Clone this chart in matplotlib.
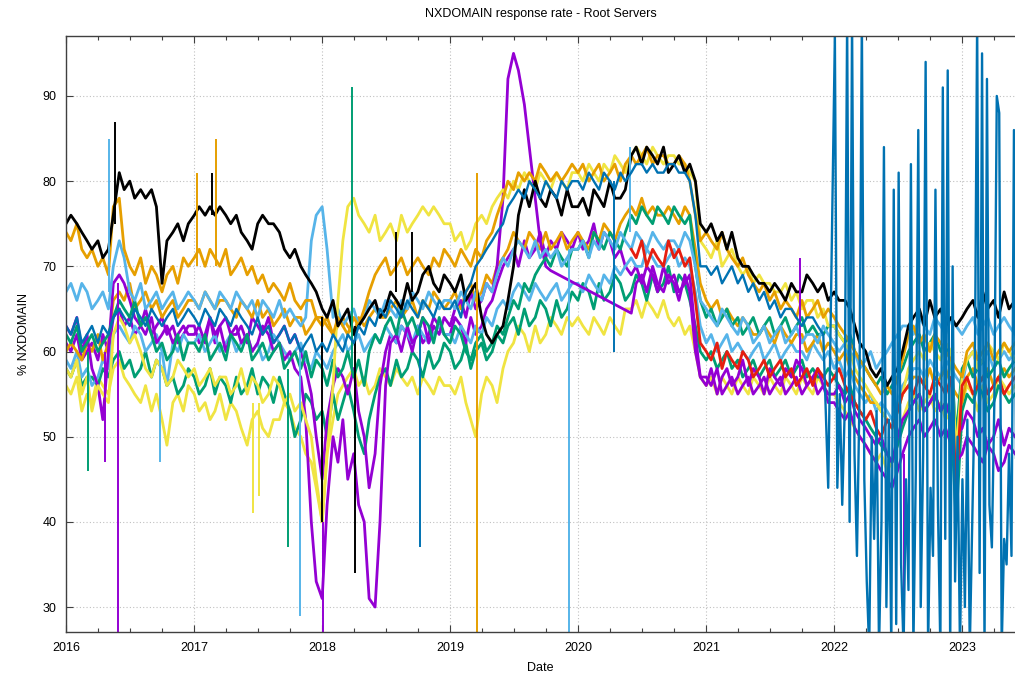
import numpy as np
import pandas as pd
import matplotlib
matplotlib.use('Agg')
import matplotlib.pyplot as plt
import matplotlib.dates as mdates
from matplotlib.ticker import MultipleLocator

plt.rcParams['font.family'] = ['Liberation Sans', 'DejaVu Sans']
plt.rcParams['font.size'] = 9

nan = np.nan

# ---- data: % NXDOMAIN per root server, sampled on the 1st and 15th of each month ----
dates = pd.date_range('2016-01-01', '2023-06-01', freq='SMS')

black = [
    75, 76, 75, 74, 73, 72, 73, 71, 72, 76, 81, 79, 80, 78, 79, 78, 79, 77, 68, 73, 74, 75, 73, 75,  # 2016
    76, 77, 76, 77, 76, 77, 76, 75, 76, 74, 73, 72, 75, 76, 75, 75, 74, 72, 71, 72, 70, 69, 68, 67,  # 2017
    65, 64, 66, 63, 64, 65, 62, 63, 64, 65, 66, 64, 65, 67, 66, 65, 68, 66, 67, 69, 70, 68, 67, 69,  # 2018
    68, 67, 69, 66, 67, 68, 64, 62, 61, 62, 63, 66, 70, 76, 79, 77, 80, 78, 77, 79, 78, 76, 79, 77,  # 2019
    77, 78, 76, 79, 78, 77, 80, 78, 78, 79, 83, 84, 82, 84, 83, 82, 84, 81, 82, 83, 81, 82, 80, 75,  # 2020
    74, 75, 73, 74, 72, 74, 71, 70, 70, 69, 68, 68, 67, 68, 67, 66, 68, 67, 67, 69, 68, 67, 68, 66,  # 2021
    67, 66, 66, 65, 63, 61, 60, 58, 57, 58, 56, 57, 58, 60, 63, 64, 65, 63, 66, 64, 65, 63, 64, 63,  # 2022
    64, 65, 66, 64, 67, 65, 66, 64, 67, 65, 66,  # 2023
]
orange_a = [
    74, 73, 75, 72, 71, 72, 70, 71, 69, 77, 78, 72, 70, 69, 71, 68, 70, 69, 67, 69, 70, 68, 71, 70,
    71, 72, 70, 72, 71, 70, 72, 69, 70, 71, 69, 70, 68, 69, 67, 68, 67, 66, 68, 66, 65, 66, 66, 64,
    64, 63, 62, 64, 63, 62, 64, 63, 65, 67, 69, 70, 71, 69, 70, 71, 69, 70, 71, 70, 69, 71, 70, 72,
    71, 70, 72, 71, 70, 72, 71, 73, 74, 76, 78, 80, 79, 81, 80, 81, 80, 82, 81, 80, 81, 80, 81, 82,
    81, 82, 80, 81, 82, 80, 81, 82, 80, 82, 83, 82, 83, 84, 82, 83, 83, 82, 82, 83, 82, 80, 76, 73,
    74, 73, 72, 74, 72, 71, 70, 71, 69, 68, 67, 68, 66, 67, 65, 66, 65, 64, 66, 64, 65, 66, 64, 65,
    64, 63, 62, 61, 60, 59, 58, 57, 56, 55, 56, 55, 57, 59, 62, 63, 61, 62, 60, 62, 61, 60, 59, 58,
    57, 60, 61, 59, 60, 61, 59, 60, 61, 60, 61,
]
orange_b = [
    60, 61, 60, 59, 61, 60, 62, 59, 61, 66, 67, 66, 68, 65, 66, 67, 65, 66, 64, 65, 66, 64, 65, 66,
    66, 65, 67, 66, 65, 66, 66, 65, 64, 66, 65, 64, 66, 64, 65, 63, 64, 65, 63, 64, 64, 62, 63, 64,
    63, 64, 62, 63, 64, 63, 62, 64, 63, 64, 65, 64, 64, 65, 66, 64, 65, 66, 64, 66, 65, 67, 66, 65,
    66, 67, 65, 67, 68, 66, 67, 69, 68, 70, 71, 72, 74, 73, 72, 74, 73, 72, 74, 72, 73, 74, 72, 73,
    74, 73, 72, 74, 73, 75, 74, 73, 75, 76, 77, 76, 78, 76, 77, 76, 76, 77, 76, 75, 77, 76, 72, 68,
    66, 65, 66, 64, 65, 64, 63, 64, 63, 62, 62, 63, 62, 61, 63, 62, 61, 62, 62, 60, 61, 62, 60, 61,
    60, 59, 60, 58, 57, 56, 55, 54, 54, 53, 52, 51, 53, 55, 56, 57, 57, 56, 58, 56, 57, 58, 56, 55,
    54, 57, 58, 56, 57, 58, 56, 57, 58, 57, 58,
]
lightblue_a = [
    67, 68, 66, 68, 67, 65, 66, 67, 65, 70, 73, 71, 67, 66, 68, 65, 66, 67, 65, 66, 67, 65, 66, 67,
    66, 65, 67, 66, 65, 67, 66, 65, 67, 66, 65, 66, 64, 66, 65, 64, 66, 64, 65, 64, 63, 64, 73, 76,
    77, 72, 64, 65, 63, 64, 65, 63, 64, 66, 65, 64, 66, 65, 64, 66, 65, 67, 66, 65, 67, 66, 65, 66,
    66, 65, 67, 66, 65, 67, 66, 68, 67, 69, 71, 70, 72, 73, 72, 71, 73, 71, 72, 71, 72, 70, 71, 72,
    72, 73, 71, 73, 72, 74, 73, 72, 74, 73, 72, 74, 73, 72, 74, 73, 72, 73, 73, 72, 74, 73, 70, 66,
    65, 64, 63, 65, 64, 63, 62, 64, 63, 61, 62, 63, 61, 62, 63, 61, 62, 63, 61, 62, 62, 61, 63, 62,
    61, 60, 61, 59, 60, 58, 59, 60, 58, 59, 60, 61, 62, 63, 63, 62, 64, 63, 62, 64, 63, 62, 64, 63,
    62, 63, 64, 62, 63, 64, 62, 63, 64, 63, 62,
]
lightblue_b = [
    59, 58, 60, 57, 58, 56, 57, 59, 58, 62, 63, 62, 61, 63, 62, 60, 61, 62, 60, 56, 61, 60, 62, 61,
    61, 62, 60, 61, 62, 60, 61, 62, 60, 61, 62, 60, 61, 59, 60, 62, 61, 60, 59, 60, 61, 59, 58, 60,
    59, 58, 60, 61, 62, 60, 61, 62, 60, 61, 62, 61, 63, 62, 61, 63, 62, 61, 63, 62, 61, 62, 63, 62,
    62, 61, 63, 62, 61, 63, 62, 64, 63, 65, 66, 65, 67, 68, 67, 66, 68, 67, 66, 67, 68, 66, 67, 68,
    68, 67, 69, 68, 67, 69, 68, 70, 69, 70, 71, 70, 70, 72, 71, 70, 70, 71, 72, 70, 71, 70, 67, 63,
    61, 62, 60, 61, 62, 60, 61, 60, 59, 60, 61, 59, 60, 61, 59, 60, 61, 60, 60, 59, 61, 60, 59, 60,
    58, 59, 57, 58, 56, 55, 54, 55, 53, 54, 53, 52, 54, 56, 57, 58, 58, 57, 59, 58, 57, 59, 58, 57,
    56, 59, 60, 58, 59, 60, 58, 59, 60, 59, 60,
]
purple_a = [
    63, 62, 64, 60, 62, 58, 56, 52, 60, 68, 69, 68, 66, 64, 63, 62, 64, 61, 62, 63, 61, 62, 63, 62,
    62, 63, 61, 64, 62, 63, 60, 62, 63, 61, 62, 60, 61, 63, 62, 60, 61, 59, 60, 58, 57, 52, 40, 33,
    31, 42, 50, 47, 52, 45, 48, 42, 40, 31, 30, 40, 56, 61, 62, 60, 63, 61, 62, 64, 61, 63, 62, 64,
    63, 65, 66, 64, 67, 65, 66, 68, 67, 70, 78, 92, 95, 93, 89, 84, 78, 73, 70, 69.5, nan, nan, nan, nan,
    nan, nan, nan, nan, nan, nan, nan, nan, nan, nan, 64.5, 68, 69, 67, 70, 68, 67, 69, 68, 66, 69, 67, 60, 57,
    56, 58, 55, 57, 58, 56, 57, 59, 56, 58, 57, 55, 58, 57, 56, 58, 57, 59, 58, 56, 57, 58, 56, 55,
    55, 56, 54, 55, 53, 52, 51, 50, 49, 50, 48, 47, 50, 52, 53, 54, 55, 53, 54, 55, 53, 54, 52, 50,
    51, 53, 52, 50, 51, 49, 50, 52, 49, 51, 50,
]
purple_b = [
    61, 60, 62, 59, 60, 61, 59, 62, 60, 64, 65, 63, 64, 62, 63, 65, 62, 63, 64, 62, 63, 61, 62, 63,
    63, 61, 62, 64, 61, 63, 64, 62, 62, 63, 61, 64, 63, 62, 64, 61, 62, 63, 61, 62, 60, 58, 55, 50,
    45, 52, 56, 58, 57, 55, 58, 53, 50, 44, 48, 56, 60, 62, 61, 63, 62, 60, 63, 61, 62, 64, 63, 62,
    62, 64, 63, 61, 64, 62, 63, 65, 66, 68, 70, 71, 72, 70, 73, 71, 72, 74, 71, 73, 72, 74, 73, 72,
    74, 72, 73, 75, 72, 74, 73, 71, 72, 70, 69, 70, 68, 70, 69, 67, 70, 68, 69, 67, 68, 69, 62, 57,
    57, 56, 58, 55, 56, 57, 55, 56, 57, 55, 56, 57, 55, 56, 57, 55, 56, 57, 55, 56, 57, 55, 56, 54,
    54, 53, 52, 53, 51, 50, 49, 48, 47, 46, 45, 44, 46, 48, 50, 51, 52, 50, 51, 52, 50, 51, 49, 47,
    48, 50, 49, 48, 47, 49, 48, 46, 47, 49, 48,
]
green_a = [
    62, 61, 63, 60, 61, 62, 60, 61, 62, 64, 66, 65, 64, 66, 63, 64, 62, 60, 61, 59, 60, 62, 59, 61,
    61, 60, 62, 59, 60, 61, 59, 62, 61, 60, 62, 59, 60, 61, 59, 60, 61, 58, 59, 60, 58, 60, 57, 59,
    58, 56, 59, 57, 58, 60, 57, 59, 56, 60, 62, 61, 63, 64, 62, 65, 63, 64, 62, 64, 63, 61, 64, 62,
    61, 63, 62, 60, 59, 61, 62, 60, 61, 63, 62, 64, 66, 65, 68, 67, 69, 70, 71, 70, 72, 71, 70, 72,
    72, 73, 71, 74, 73, 72, 74, 73, 72, 74, 76, 75, 77, 76, 75, 77, 76, 75, 77, 76, 75, 76, 70, 66,
    64, 65, 63, 64, 65, 63, 64, 62, 63, 64, 62, 63, 64, 62, 63, 64, 62, 63, 64, 62, 63, 62, 62, 63,
    63, 62, 61, 62, 60, 59, 58, 57, 56, 57, 55, 56, 57, 58, 60, 61, 62, 60, 61, 62, 60, 61, 59, 50,
    58, 59, 57, 58, 59, 57, 58, 59, 57, 58, 59,
]
green_b = [
    58, 57, 59, 56, 57, 57, 56, 58, 57, 59, 60, 58, 59, 57, 58, 60, 57, 59, 58, 56, 57, 55, 56, 58,
    57, 55, 56, 58, 55, 57, 56, 54, 57, 55, 56, 58, 55, 57, 56, 54, 57, 55, 53, 50, 52, 55, 54, 52,
    53, 50, 55, 52, 54, 56, 53, 50, 48, 52, 55, 57, 58, 56, 59, 57, 58, 60, 59, 57, 60, 58, 59, 61,
    60, 58, 59, 61, 58, 60, 61, 59, 60, 62, 61, 63, 64, 62, 65, 63, 64, 66, 65, 63, 66, 64, 65, 67,
    66, 68, 67, 65, 68, 66, 67, 69, 68, 66, 67, 69, 68, 66, 69, 67, 68, 70, 67, 69, 68, 66, 63, 60,
    59, 60, 58, 59, 60, 58, 59, 57, 58, 59, 57, 58, 59, 57, 58, 59, 57, 58, 59, 57, 58, 57, 57, 58,
    57, 56, 55, 56, 54, 53, 52, 51, 50, 49, 48, 47, 49, 51, 53, 54, 55, 53, 54, 55, 53, 54, 52, 40,
    53, 55, 54, 56, 55, 53, 54, 56, 55, 54, 55,
]
yellow_a = [
    58, 57, 59, 55, 57, 53, 56, 55, 54, 62, 64, 63, 61, 62, 60, 58, 57, 59, 58, 56, 57, 59, 58, 57,
    58, 56, 57, 58, 56, 57, 57, 55, 56, 58, 55, 57, 56, 54, 55, 57, 56, 54, 55, 53, 54, 52, 50, 45,
    40, 48, 56, 66, 73, 77, 78, 76, 75, 74, 76, 73, 74, 75, 73, 76, 74, 75, 76, 77, 76, 77, 76, 75,
    75, 73, 74, 72, 73, 75, 76, 75, 77, 78, 79, 78, 80, 79, 81, 80, 79, 81, 80, 79, 81, 80, 79, 81,
    81, 80, 82, 81, 80, 82, 81, 83, 82, 81, 83, 84, 83, 82, 84, 83, 82, 83, 83, 82, 82, 81, 80, 73,
    72, 71, 73, 70, 71, 72, 70, 69, 70, 68, 69, 68, 68, 67, 67, 68, 66, 67, 65, 66, 66, 64, 65, 63,
    63, 62, 61, 60, 58, 57, 56, 55, 54, 53, 52, 51, 53, 55, 58, 59, 60, 59, 61, 60, 59, 61, 60, 48,
    57, 59, 60, 58, 59, 61, 60, 59, 61, 60, 59,
]
yellow_b = [
    56, 55, 57, 53, 55, 54, 57, 56, 55, 58, 59, 57, 56, 55, 54, 56, 53, 55, 52, 49, 54, 55, 53, 56,
    55, 53, 54, 52, 53, 55, 52, 54, 53, 51, 49, 52, 53, 51, 50, 52, 52, 54, 53, 51, 50, 48, 47, 44,
    40, 48, 52, 55, 56, 57, 58, 56, 57, 55, 56, 58, 57, 56, 58, 57, 56, 57, 55, 57, 56, 55, 57, 56,
    56, 55, 57, 54, 52, 50, 55, 57, 56, 54, 58, 60, 61, 63, 62, 60, 63, 61, 62, 64, 63, 62, 64, 63,
    64, 63, 62, 64, 63, 62, 64, 63, 62, 65, 65, 66, 64, 66, 65, 64, 66, 64, 63, 64, 62, 63, 60, 57,
    56, 57, 55, 57, 56, 55, 57, 56, 55, 57, 56, 55, 57, 56, 55, 57, 56, 55, 57, 56, 55, 57, 56, 55,
    55, 54, 53, 52, 51, 50, 49, 48, 47, 48, 46, 47, 49, 52, 54, 55, 53, 54, 55, 53, 54, 52, 53, 45,
    54, 56, 55, 53, 56, 54, 55, 57, 56, 55, 56,
]
red = [nan] * 106 + [
    72, 71, 73, 70, 72, 71, 70, 73, 71, 72, 70, 71, 66, 61,  # Jun-Dec 2020
    60, 59, 61, 58, 60, 59, 58, 60, 59, 57, 58, 59, 57, 58, 59, 57, 58, 56, 57, 58, 56, 58, 57, 56,
    57, 58, 56, 55, 54, 53, 52, 53, 51, 50, 52, 51, 53, 55, 56, 55, 57, 56, 55, 57, 56, 55, 57, 44,
    56, 57, 55, 56, 57, 55, 56, 57, 55, 56, 57,
]
# dark blue server: semi-monthly to end of 2021, then weekly from 2022-01-03 (very unstable)
blue_early = [
    63, 62, 64, 61, 62, 63, 61, 63, 62, 64, 65, 64, 63, 65, 64, 63, 65, 64, 63, 64, 65, 63, 64, 65,
    64, 63, 65, 64, 63, 65, 64, 63, 65, 64, 63, 62, 64, 62, 63, 61, 62, 63, 61, 62, 60, 61, 62, 60,
    61, 60, 62, 61, 60, 62, 61, 63, 62, 64, 63, 65, 64, 66, 65, 64, 66, 65, 64, 66, 65, 64, 66, 65,
    65, 66, 64, 67, 68, 70, 71, 72, 73, 74, 75, 77, 78, 79, 78, 80, 79, 78, 80, 79, 78, 80, 79, 80,
    80, 79, 81, 80, 79, 81, 80, 79, 81, 80, 81, 82, 82, 81, 82, 81, 81, 82, 82, 81, 81, 80, 76, 70,
    70, 69, 70, 68, 69, 70, 68, 69, 67, 68, 66, 67, 65, 66, 64, 65, 65, 64, 63, 64, 64, 63, 62, 44,
]
blue_weekly = [
    97, 44, 55, 42, 53, 99, 40, 99, 48, 36, 54, 99, 45, 33, 25, 50, 38, 53, 25, 40,
    84, 30, 52, 25, 79, 28, 81, 35, 25, 45, 32, 82, 25, 46, 86, 30, 48, 94, 25, 44,
    36, 79, 42, 25, 91, 38, 93, 25, 70, 33, 50, 25, 45, 30, 52, 25, 40, 55, 99, 34,
    95, 25, 92, 42, 37, 54, 90, 88, 25, 38, 35, 48, 36, 86, 40,
]

# isolated one-day spikes: date, level before, spike value, series colour
spike_dates = ['2016-03-03', '2016-04-22', '2016-05-04', '2016-05-20', '2016-05-29', '2016-09-25',
               '2017-01-08', '2017-02-20', '2017-03-05', '2017-06-18', '2017-07-05', '2017-09-25',
               '2017-10-30', '2018-01-01', '2018-01-03', '2018-03-27', '2018-04-05', '2018-08-01',
               '2018-09-15', '2018-10-08', '2019-03-18', '2019-12-05', '2020-04-12', '2020-05-28',
               '2021-09-25', '2022-07-20']
spike_base = [60, 60, 67, 75, 68, 60, 70, 76, 70, 54, 54, 58, 60, 64, 40, 58, 63, 67, 67, 63, 81, 72,
              80, 74, 57, 48]
spike_peak = [46, 47, 85, 87, 25, 47, 81, 81, 85, 41, 43, 37, 29, 40, 25, 91, 34, 74, 74, 37, 25, 25,
              60, 84, 71, 25]
spike_color = ['green', 'purple', 'lightblue', 'black', 'purple', 'lightblue', 'orange', 'black',
               'orange', 'yellow', 'yellow', 'green', 'lightblue', 'black', 'purple', 'green', 'black',
               'black', 'black', 'blue', 'orange', 'lightblue', 'blue', 'lightblue', 'purple', 'purple']

colors = {'purple': '#9400D3', 'green': '#009E73', 'lightblue': '#56B4E9', 'orange': '#E69F00',
          'yellow': '#F0E442', 'blue': '#0072B2', 'red': '#E51E10', 'black': '#000000'}

series = [
    (yellow_b, 'yellow'), (green_b, 'green'), (purple_b, 'purple'), (lightblue_b, 'lightblue'),
    (orange_b, 'orange'), (purple_a, 'purple'), (green_a, 'green'), (lightblue_a, 'lightblue'),
    (yellow_a, 'yellow'), (orange_a, 'orange'), (red, 'red'), (black, 'black'),
]

fig = plt.figure(figsize=(10.15, 6.74), dpi=100)
ax = fig.add_axes([66 / 1015, 1 - 632 / 674, 1 - 66 / 1015, (632 - 36) / 674])

for vals, cname in series:
    y = np.array(vals, dtype=float)
    ok = ~np.isnan(y)
    ax.plot(dates[ok], y[ok], color=colors[cname], lw=2.0, zorder=3)

sp_dates = pd.to_datetime(spike_dates)
for d, lo, hi, cname in zip(sp_dates, spike_base, spike_peak, spike_color):
    ax.vlines(d, lo, hi, color=colors[cname], lw=1.4, zorder=3)

blue_dates = dates[:len(blue_early)].append(pd.date_range('2022-01-03', periods=len(blue_weekly), freq='7D'))
ax.plot(blue_dates, blue_early + blue_weekly, color=colors['blue'], lw=1.7, zorder=4)

ax.set_xlim(pd.Timestamp('2016-01-01'), pd.Timestamp('2023-06-01'))
ax.set_ylim(27.07, 97.04)

ax.xaxis.set_major_locator(mdates.YearLocator())
ax.xaxis.set_minor_locator(mdates.MonthLocator(bymonth=[4, 7, 10]))
ax.xaxis.set_major_formatter(mdates.DateFormatter('%Y'))
ax.yaxis.set_major_locator(MultipleLocator(10))

ax.tick_params(which='both', direction='in', top=True, right=False, color='#404040', width=0.8)
ax.tick_params(which='major', length=5, pad=7, labelsize=9)
ax.tick_params(which='minor', length=3)
ax.grid(True, which='major', linestyle=(0, (1, 2)), color='#c0c0c0', lw=0.8, zorder=0)

for side in ['left', 'bottom', 'top']:
    ax.spines[side].set_color('#404040')
    ax.spines[side].set_linewidth(1.0)
    ax.spines[side].set_zorder(5)
ax.spines['right'].set_visible(False)

ax.set_title('NXDOMAIN response rate - Root Servers', fontsize=9, pad=14)
ax.set_xlabel('Date', fontsize=9, labelpad=6)
ax.set_ylabel('% NXDOMAIN', fontsize=9, labelpad=9)

fig.savefig('out.png', dpi=100)
